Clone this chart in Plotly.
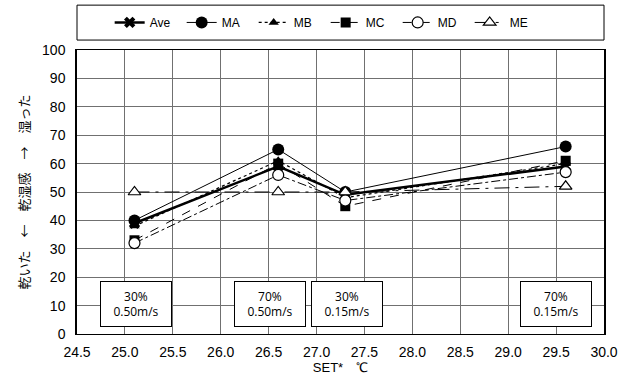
import plotly.graph_objects as go

set_temp = [25.1, 26.6, 27.3, 29.6]
series_names = ["Ave", "MA", "MB", "MC", "MD", "ME"]
ave = [39, 59, 49, 59]
ma = [40, 65, 50, 66]
mb = [38, 61, 48, 60]
mc = [33, 60, 45, 61]
md = [32, 56, 47, 57]
me = [50, 50, 50, 52]
values = [ave, ma, mb, mc, md, me]

x_ticks = [24.5, 25.0, 25.5, 26.0, 26.5, 27.0, 27.5, 28.0, 28.5, 29.0, 29.5, 30.0]
x_tick_labels = ["24.5", "25.0", "25.5", "26.0", "26.5", "27.0", "27.5", "28.0", "28.5", "29.0", "29.5", "30.0"]

cond_x = [25.12, 26.51, 27.32, 29.5]
cond_labels = ["30%<br>0.50m/s", "70%<br>0.50m/s", "30%<br>0.15m/s", "70%<br>0.15m/s"]

styles = {
    "Ave": dict(line=dict(color="black", width=2.5, dash="solid"),
                marker=dict(symbol="x", size=10, color="black", line=dict(width=0))),
    "MA": dict(line=dict(color="black", width=1, dash="solid"),
               marker=dict(symbol="circle", size=12, color="black")),
    "MB": dict(line=dict(color="black", width=1.2, dash="dot"),
               marker=dict(symbol="triangle-up", size=9, color="black")),
    "MC": dict(line=dict(color="black", width=1, dash="dash"),
               marker=dict(symbol="square", size=10, color="black")),
    "MD": dict(line=dict(color="black", width=1, dash="dashdot"),
               marker=dict(symbol="circle", size=11, color="white", line=dict(color="black", width=1.2))),
    "ME": dict(line=dict(color="black", width=1, dash="longdashdot"),
               marker=dict(symbol="triangle-up", size=11, color="white", line=dict(color="black", width=1.2))),
}

fig = go.Figure()
for name, vals in zip(series_names, values):
    fig.add_trace(go.Scatter(x=set_temp, y=vals, name=name, mode="lines+markers", **styles[name]))

for cx, lab in zip(cond_x, cond_labels):
    fig.add_annotation(x=cx, y=10.6, xref="x", yref="y", text=lab, showarrow=False,
                       font=dict(family="Open Sans, Noto Sans, sans-serif", size=12, color="black"),
                       bgcolor="white", bordercolor="black", borderwidth=1,
                       width=68, height=42, align="center")

# legend frame
fig.add_shape(type="rect", xref="paper", yref="paper", x0=0.0, x1=1.0, y0=1.035, y1=1.158,
              line=dict(color="black", width=1), fillcolor="white", layer="below")

fig.update_layout(
    width=622, height=383,
    margin=dict(l=77, r=18, t=50, b=49, autoexpand=False),
    paper_bgcolor="white", plot_bgcolor="white",
    font=dict(family="Liberation Sans, Arial, sans-serif", size=12, color="black"),
    showlegend=True,
    legend=dict(orientation="h", x=0.062, xanchor="left", y=1.097, yanchor="middle",
                bgcolor="rgba(0,0,0,0)", borderwidth=0, font=dict(size=12),
                entrywidth=27, entrywidthmode="pixels", itemwidth=30),
    xaxis=dict(range=[24.5, 30.0], tickmode="array", tickvals=x_ticks, ticktext=x_tick_labels,
               tickfont=dict(size=14),
               showgrid=True, gridcolor="#707070", gridwidth=1,
               showline=True, linecolor="black", linewidth=1, mirror=True,
               ticks="", zeroline=False, automargin=False, ticklabelstandoff=5,
               title=dict(text="SET*　℃", font=dict(family="Liberation Sans, Arial, sans-serif", size=13), standoff=3)),
    yaxis=dict(range=[0, 100], dtick=10, showgrid=True, gridcolor="#707070", gridwidth=1,
               tickfont=dict(size=14),
               showline=True, linecolor="black", linewidth=1.5, mirror=True,
               ticks="", zeroline=False, automargin=False, ticklabelstandoff=7,
               title=dict(text="乾いた　←　乾湿感　→　湿った",
                          font=dict(family="Noto Sans CJK JP", size=13), standoff=10)),
)

fig.write_html("out.html", config={"displayModeBar": False},
               post_script="document.body.style.margin='0';")
